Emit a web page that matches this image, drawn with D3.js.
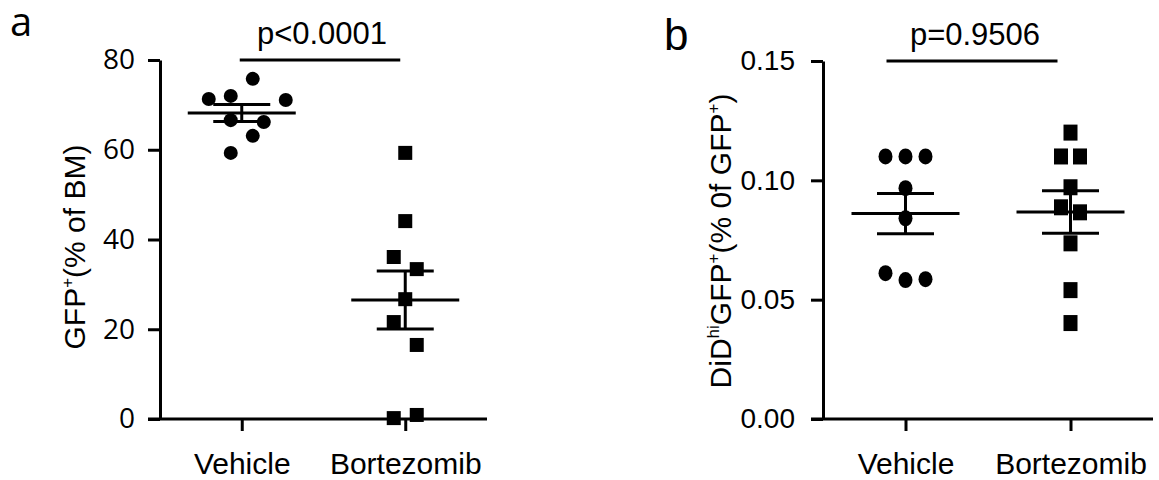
<!DOCTYPE html>
<html lang="en">
<head>
  <meta charset="UTF-8">
  <title>GFP+ and DiDhi GFP+ scatter plots</title>
  <script src="https://d3js.org/d3.v7.min.js"></script>
  <style>
    body {
      margin: 0;
      background: #fff;
    }
    svg {
      display: block;
    }
    .axis path, .axis line {
      stroke: #000;
      stroke-width: 3;
    }
  </style>
</head>
<body>
  <svg id="chart" width="1159" height="480"></svg>

  <script>
    // groups on the x axis
    const groups = ["Vehicle", "Bortezomib"];

    // panel a: GFP+ (% of BM)
    const gfpVehicle = [75.8, 71.3, 72.0, 71.1, 66.6, 66.2, 63.1, 59.3];
    const gfpVehicleSlot = [1, -3, -1, 4, -1, 2, 1, -1];
    const gfpBortezomib = [59.3, 44.1, 36.1, 33.4, 26.7, 21.6, 16.5, 0.2, 0.9];
    const gfpBortezomibSlot = [0, 0, -1, 1, 0, -1, 1, -1, 1];
    const gfpTicks = [0, 20, 40, 60, 80];

    // panel b: DiDhi GFP+ (% of GFP+)
    const didVehicle = [0.110, 0.110, 0.110, 0.0967, 0.0841, 0.0611, 0.0582, 0.0586];
    const didVehicleSlot = [-1, 0, 1, 0, 0, -1, 0, 1];
    const didBortezomib = [0.120, 0.110, 0.110, 0.0971, 0.0887, 0.0866, 0.0736, 0.0540, 0.0402];
    const didBortezomibSlot = [0, -1, 1, 0, -1, 1, 0, 0, 0];
    const didTicks = [0, 0.05, 0.10, 0.15];

    const pValues = ["p<0.0001", "p=0.9506"];

    const svg = d3.select("#chart");

    function meanSem(v) {
      const m = d3.mean(v);
      const sem = d3.deviation(v) / Math.sqrt(v.length);
      return { m, sem };
    }

    function drawPanel(cfg) {
      const x = d3.scalePoint().domain(groups).range([cfg.left, cfg.right]).padding(0.5);
      const y = d3.scaleLinear().domain(cfg.domain).range([419, cfg.top]);

      // y axis
      const yAxis = svg.append("g")
        .attr("class", "axis")
        .attr("transform", `translate(${cfg.left},0)`)
        .call(d3.axisLeft(y).tickValues(cfg.ticks).tickSize(12).tickSizeOuter(0)
          .tickPadding(cfg.tickPad).tickFormat(cfg.fmt));
      yAxis.selectAll("text")
        .style("font-family", cfg.tickFont)
        .style("font-size", "28px")
        .style("fill", "#000");

      // x axis
      const xAxis = svg.append("g")
        .attr("class", "axis")
        .attr("transform", "translate(0,419)")
        .call(d3.axisBottom(x).tickSize(12).tickSizeOuter(0));
      xAxis.select(".domain").attr("d", `M${cfg.left - 12},0H${cfg.right}`);
      xAxis.selectAll("text")
        .attr("y", 55)
        .attr("dy", "0")
        .style("font-family", "'Liberation Sans', Arial, sans-serif")
        .style("font-size", "30px")
        .style("fill", "#000");

      // points
      cfg.series.forEach((s, gi) => {
        const cx = x(groups[gi]);
        const g = svg.append("g");
        if (s.shape === "circle") {
          g.selectAll("ellipse")
            .data(s.values)
            .join("ellipse")
            .attr("cx", (d, i) => cx + s.slot[i] * s.step)
            .attr("cy", d => y(d))
            .attr("rx", 7)
            .attr("ry", cfg.markH / 2)
            .attr("fill", "#000");
        } else {
          g.selectAll("rect")
            .data(s.values)
            .join("rect")
            .attr("x", (d, i) => cx + s.slot[i] * s.step - 7)
            .attr("y", d => y(d) - cfg.markH / 2)
            .attr("width", 14)
            .attr("height", cfg.markH)
            .attr("fill", "#000");
        }

        // mean +/- SEM
        const st = meanSem(s.values);
        const lines = [
          [cx - 54, y(st.m), cx + 54, y(st.m)],
          [cx - 28.5, y(st.m + st.sem), cx + 28.5, y(st.m + st.sem)],
          [cx - 28.5, y(st.m - st.sem), cx + 28.5, y(st.m - st.sem)],
          [cx, y(st.m + st.sem), cx, y(st.m - st.sem)]
        ];
        g.selectAll("line")
          .data(lines)
          .join("line")
          .attr("x1", d => d[0]).attr("y1", d => d[1])
          .attr("x2", d => d[2]).attr("y2", d => d[3])
          .attr("stroke", "#000")
          .attr("stroke-width", 3);
      });

      // significance bar
      svg.append("line")
        .attr("x1", x(groups[0]) + cfg.barOff[0])
        .attr("x2", x(groups[1]) + cfg.barOff[1])
        .attr("y1", cfg.top)
        .attr("y2", cfg.top)
        .attr("stroke", "#000")
        .attr("stroke-width", 3);
      svg.append("text")
        .attr("x", cfg.pX)
        .attr("y", cfg.pY)
        .attr("text-anchor", "middle")
        .style("font-family", "'Liberation Sans', Arial, sans-serif")
        .style("font-size", "31px")
        .text(cfg.p);

      // panel letter
      svg.append("text")
        .attr("x", cfg.letterX)
        .attr("y", cfg.letterY)
        .style("font-family", cfg.letterFont)
        .style("font-size", cfg.letterSize + "px")
        .text(cfg.letter);

      // y axis title
      const t = svg.append("text")
        .attr("transform", `translate(${cfg.titleX},${cfg.titleY}) rotate(-90)`)
        .attr("text-anchor", "middle")
        .style("font-family", "'Liberation Sans', Arial, sans-serif")
        .style("font-size", "30px");
      cfg.title.forEach(part => {
        const ts = t.append("tspan").text(part.t);
        if (part.sup) {
          ts.attr("dy", -12).style("font-size", "17px");
        } else if (part.after) {
          ts.attr("dy", 12);
        }
      });
    }

    drawPanel({
      left: 160, right: 487, top: 60,
      domain: [0, 80], ticks: gfpTicks, fmt: d3.format("d"),
      tickFont: "'Open Sans', sans-serif", tickPad: 13,
      markH: 14,
      series: [
        { values: gfpVehicle, slot: gfpVehicleSlot, step: 11, shape: "circle" },
        { values: gfpBortezomib, slot: gfpBortezomibSlot, step: 11.5, shape: "square" }
      ],
      barOff: [-2, -5], p: pValues[0], pX: 322, pY: 44,
      letter: "a", letterX: 10, letterY: 36, letterFont: "'Open Sans', sans-serif", letterSize: 40,
      titleX: 85, titleY: 247,
      title: [{ t: "GFP" }, { t: "+", sup: true }, { t: "(% of BM)", after: true }]
    });

    drawPanel({
      left: 823, right: 1153, top: 61,
      domain: [0, 0.15], ticks: didTicks, fmt: d3.format(".2f"),
      tickFont: "'Liberation Sans', Arial, sans-serif", tickPad: 16,
      markH: 16,
      series: [
        { values: didVehicle, slot: didVehicleSlot, step: 20, shape: "circle" },
        { values: didBortezomib, slot: didBortezomibSlot, step: 9.5, shape: "square" }
      ],
      barOff: [-19, -13], p: pValues[1], pX: 975, pY: 45,
      letter: "b", letterX: 664, letterY: 50, letterFont: "'Liberation Sans', Arial, sans-serif", letterSize: 44,
      titleX: 731, titleY: 241,
      title: [{ t: "DiD" }, { t: "hi", sup: true }, { t: "GFP", after: true }, { t: "+", sup: true },
        { t: "(% 0f GFP", after: true }, { t: "+", sup: true }, { t: ")", after: true }]
    });
  </script>
</body>
</html>
